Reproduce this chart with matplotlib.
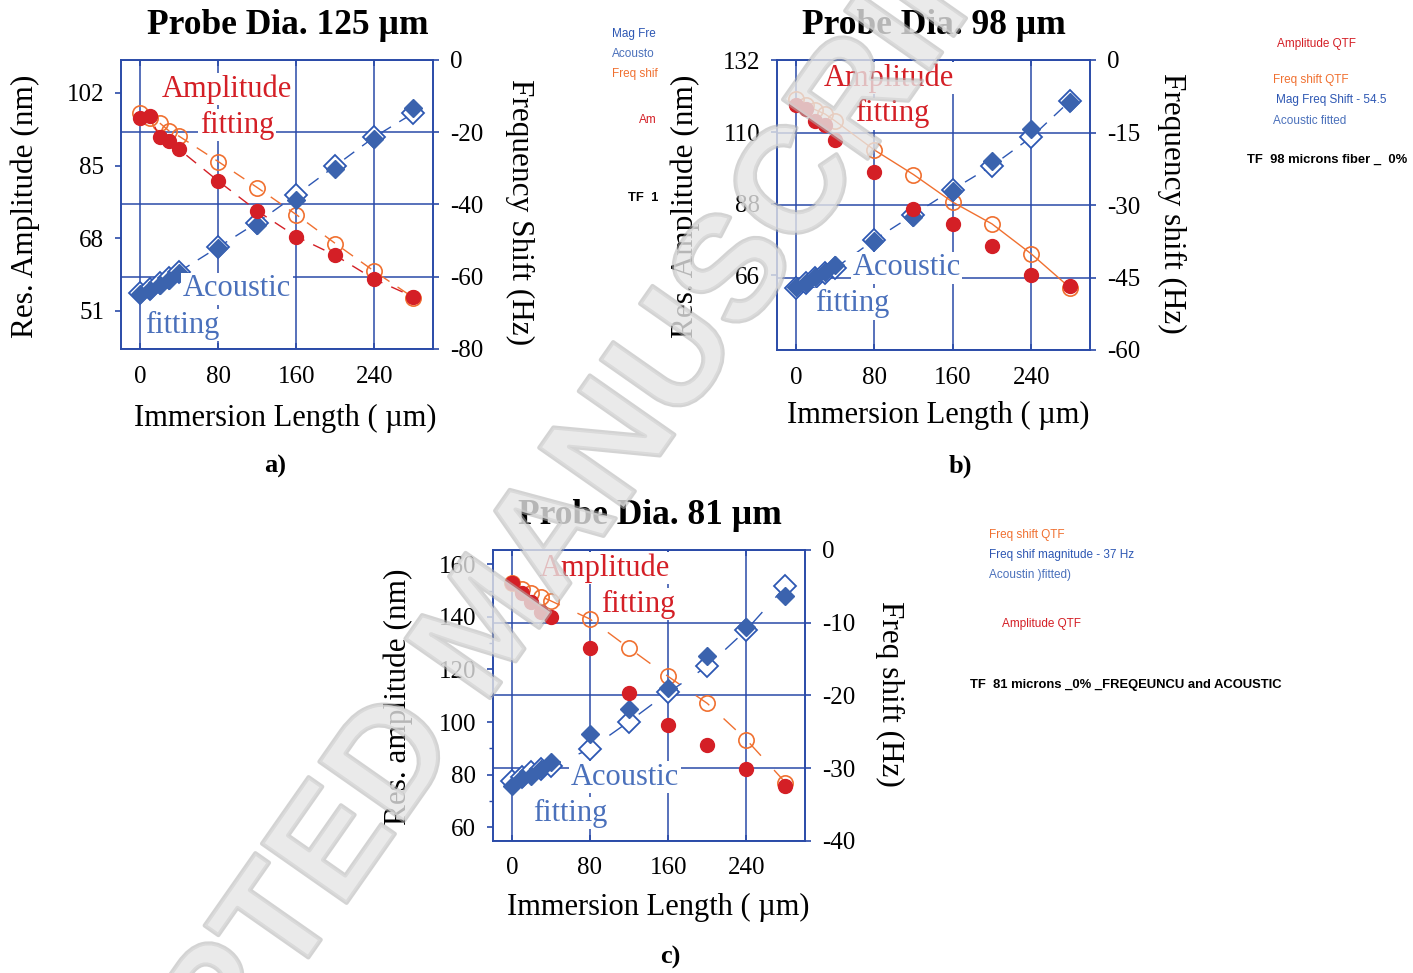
import matplotlib
matplotlib.use('Agg')
import matplotlib.pyplot as plt
import matplotlib.patheffects as pe

plt.rcParams['font.family'] = ['Liberation Serif', 'DejaVu Serif']
plt.rcParams['axes.unicode_minus'] = False

# immersion length (um)
xs = [0, 10, 20, 30, 40, 80, 120, 160, 200, 240, 280]

# panel a: probe 125 um
a_amp = [96.1, 96.7, 91.6, 90.8, 88.8, 81.4, 74.4, 68.4, 64.0, 58.4, 54.3]
a_freq = [-14.7, -16.1, -17.4, -19.7, -21.1, -28.1, -35.3, -42.8, -50.8, -58.5, -65.8]
a_mag = [-64.9, -63.7, -62.2, -60.8, -59.0, -52.1, -45.8, -38.7, -30.2, -22.0, -13.2]
a_aco = [-64.5, -63.3, -61.8, -60.4, -58.6, -51.8, -45.0, -37.3, -29.3, -21.3, -14.7]

# panel b: probe 98 um
b_amp = [118.3, 117.1, 113.3, 112.2, 107.5, 97.6, 86.5, 81.8, 75.0, 66.2, 62.6]
b_freq = [-8.1, -9.3, -10.3, -11.2, -12.6, -18.6, -23.7, -29.4, -33.9, -40.1, -47.2]
b_mag = [-46.9, -46.1, -44.8, -43.8, -42.4, -37.5, -32.5, -27.1, -20.9, -14.2, -8.6]
b_aco = [-47.2, -46.2, -45.1, -44.1, -43.1, -37.2, -32.0, -26.8, -21.9, -16.0, -8.4]

# panel c: probe 81 um
c_amp = [152.8, 149.2, 145.8, 142.0, 140.1, 128.1, 111.2, 98.9, 91.3, 82.1, 75.7]
c_freq = [-4.6, -5.4, -5.9, -6.4, -7.0, -9.5, -13.5, -17.4, -21.1, -26.1, -32.0]
c_mag = [-32.5, -31.4, -31.1, -30.2, -29.2, -25.3, -21.9, -19.0, -14.6, -10.6, -6.3]
c_aco = [-31.8, -31.2, -30.6, -30.2, -29.7, -27.4, -23.6, -19.6, -16.0, -11.0, -5.0]

xticks = [0, 80, 160, 240]
a_lt = [51, 68, 85, 102]
a_rt = [0, -20, -40, -60, -80]
b_lt = [66, 88, 110, 132]
b_rt = [0, -15, -30, -45, -60]
c_lt = [60, 80, 100, 120, 140, 160]
c_rt = [0, -10, -20, -30, -40]

W, H = 1413, 973
RED = '#d41f26'
ORANGE = '#f07030'
BLUE = '#3b63ae'
BLUE2 = '#2d57b3'
TXTBLUE = '#4a70bb'
SPINE = '#2a4aa8'

fig = plt.figure(figsize=(W / 100, H / 100), dpi=100)


def fx(px):
    return px / W


def fy(py):
    return 1 - py / H


def panel(box, amp, freq, mag, aco, lylim, lt, rylim, rt, red_ls, or_ls, bl_ls, txt, lminor=None):
    l, t, r, b = box
    ax = fig.add_axes([fx(l), fy(b), fx(r - l), (b - t) / H])
    ax2 = ax.twinx()
    ax.set_zorder(ax2.get_zorder() + 1)
    ax.patch.set_visible(False)

    ax.set_xlim(-19.5, 300)
    ax.set_ylim(*lylim)
    ax2.set_ylim(*rylim)
    ax.set_xticks(xticks)
    ax.set_yticks(lt)
    ax2.set_yticks(rt)
    if lminor:
        ax.set_yticks(lminor, minor=True)

    for a in (ax, ax2):
        for s in a.spines.values():
            s.set_color(SPINE)
            s.set_linewidth(1.2)
        a.tick_params(colors=SPINE, labelcolor='black', labelsize=18,
                      length=4, width=1.2, pad=8)
        a.tick_params(which='minor', colors=SPINE, length=3, width=1)
    ax.tick_params(axis='x', top=True, direction='in', pad=12)

    ax2.grid(axis='y', color=SPINE, linewidth=1.1)
    ax2.vlines(xticks, rylim[0], rylim[1], color=SPINE, linewidth=1.1, zorder=0)

    ax2.plot(xs, freq, linestyle=or_ls, color=ORANGE, linewidth=1, marker='o',
             markersize=11, mfc='none', mec=ORANGE, mew=1.2, zorder=3)
    ax2.plot(xs, aco, linestyle=bl_ls, color=BLUE2, linewidth=1, marker='D',
             markersize=11, mfc='white', mec=BLUE2, mew=1.3, zorder=3)
    ax2.plot(xs, mag, linestyle='none', marker='D', markersize=9,
             mfc=BLUE, mec=BLUE, zorder=4)
    ax.plot(xs, amp, linestyle=red_ls, color=RED, linewidth=1, marker='o',
            markersize=10, mfc=RED, mec=RED, zorder=4)

    box_kw = dict(facecolor='white', edgecolor='none', pad=1)
    for s, tx, ty, c in txt:
        ax.text(tx, ty, s, transform=ax.transAxes, ha='center', va='center',
                fontsize=22, color=c, bbox=box_kw, zorder=5)
    return ax, ax2


dash = (0, (9, 7))
sparse = (0, (12, 14))

panel((121, 60, 433, 349), a_amp, a_freq, a_mag, a_aco, (42.1, 109.7), a_lt,
      (-80, 0), a_rt, dash, dash, dash,
      [('Amplitude', 0.34, 0.90, RED), ('fitting', 0.372, 0.775, RED),
       ('Acoustic', 0.372, 0.208, TXTBLUE), ('fitting', 0.196, 0.083, TXTBLUE)])

panel((776.7, 60, 1090, 350), b_amp, b_freq, b_mag, b_aco, (43.1, 132.1), b_lt,
      (-60, 0), b_rt, 'none', '-', dash,
      [('Amplitude', 0.358, 0.938, RED), ('fitting', 0.368, 0.814, RED),
       ('Acoustic', 0.414, 0.283, TXTBLUE), ('fitting', 0.24, 0.159, TXTBLUE)])

panel((492.7, 550, 805, 840.7), c_amp, c_freq, c_mag, c_aco, (54.9, 165.4), c_lt,
      (-40, 0), c_rt, 'none', sparse, sparse,
      [('Amplitude', 0.36, 0.938, RED), ('fitting', 0.466, 0.814, RED),
       ('Acoustic', 0.424, 0.219, TXTBLUE), ('fitting', 0.248, 0.095, TXTBLUE)],
      lminor=[70, 90, 110, 130, 150])

# titles, axis labels, panel letters
titles = [('Probe Dia. 125 µm', 288, 25), ('Probe Dia. 98 µm', 934, 25),
          ('Probe Dia. 81 µm', 650, 515)]
for s, px, py in titles:
    fig.text(fx(px), fy(py), s, ha='center', va='center', fontsize=25.5, fontweight='bold')

xlabels = [(285, 418), (938, 415), (658, 907)]
for px, py in xlabels:
    fig.text(fx(px), fy(py), 'Immersion Length ( µm)', ha='center', va='center', fontsize=22)

ylabels = [('Res. Amplitude (nm)', 25, 206, 90), ('Frequency Shift (Hz)', 520, 212, 270),
           ('Res. Amplitude (nm)', 685, 206, 90), ('Frequency shift (Hz)', 1172, 203, 270),
           ('Res. amplitude (nm)', 398, 697, 90), ('Freq shift (Hz)', 890, 694, 270)]
for s, px, py, rot in ylabels:
    fig.text(fx(px), fy(py), s, ha='center', va='center', fontsize=22.5, rotation=rot)

for s, px, py in [('a)', 275, 466), ('b)', 960, 466), ('c)', 670, 957)]:
    fig.text(fx(px), fy(py), s, ha='center', va='center', fontsize=19, fontweight='bold')

# leftover legend texts from the source figure
SANS = ['Liberation Sans', 'DejaVu Sans']
notes = [('Mag Fre', 612, 34, '#2d57b3', 'normal'), ('Acousto', 612, 54, TXTBLUE, 'normal'),
         ('Freq shif', 612, 74, ORANGE, 'normal'), ('Am', 639, 120, RED, 'normal'),
         ('TF  1', 628, 198, 'black', 'bold'),
         ('Amplitude QTF', 1277, 44, RED, 'normal'), ('Freq shift QTF', 1273, 80, ORANGE, 'normal'),
         ('Mag Freq Shift - 54.5', 1276, 100, '#2d57b3', 'normal'),
         ('Acoustic fitted', 1273, 121, TXTBLUE, 'normal'),
         ('TF  98 microns fiber _  0%', 1247, 160, 'black', 'bold'),
         ('Freq shift QTF', 989, 535, ORANGE, 'normal'),
         ('Freq shif magnitude - 37 Hz', 989, 555, '#2d57b3', 'normal'),
         ('Acoustin )fitted)', 989, 575, TXTBLUE, 'normal'),
         ('Amplitude QTF', 1002, 624, RED, 'normal'),
         ('TF  81 microns _0% _FREQEUNCU and ACOUSTIC', 970, 685, 'black', 'bold')]
for s, px, py, c, w in notes:
    fig.text(fx(px), fy(py), s, ha='left', va='center',
             fontsize=9.4 if w == 'bold' else 8.5, color=c, fontweight=w, family=SANS)

# watermark
fig.text(0.347, 0.353, 'ACCEPTED MANUSCRIPT', rotation=55, fontsize=108,
         family=SANS, fontweight='bold', color='#e6e6e6', alpha=0.55,
         ha='center', va='center', rotation_mode='anchor', zorder=20,
         path_effects=[pe.Stroke(linewidth=3, foreground='#b0b0b0'), pe.Normal()])

fig.savefig('out.png', dpi=100)
